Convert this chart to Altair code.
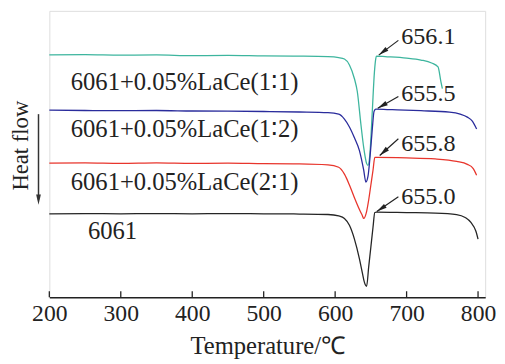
import altair as alt
import pandas as pd

# ---- data (heat flow in arbitrary units) ----
series_names = ["6061+0.05%LaCe(1∶1)", "6061+0.05%LaCe(1∶2)", "6061+0.05%LaCe(2∶1)", "6061"]
series_colors = ["#3db59e", "#2a2c9c", "#e8352c", "#252525"]

t_11 = [200, 250, 300, 350, 400, 450, 500, 550, 590, 605, 613, 620, 627, 631, 636, 640, 644, 646, 649, 652, 655, 657, 658, 670, 700, 720, 735, 744, 748, 750]
h_11 = [246.3, 246.5, 246.0, 246.2, 245.5, 245.7, 245.2, 245.0, 244.5, 243.5, 242.0, 236.0, 222.0, 209.0, 176.0, 152.0, 136.0, 134.0, 149.0, 189.0, 229.0, 243.0, 245.0, 244.5, 243.0, 241.0, 238.0, 234.0, 219.0, 212.0]

t_12 = [200, 250, 300, 350, 400, 450, 500, 550, 590, 605, 613, 620, 627, 634, 640, 643, 646, 649, 652, 654.5, 657, 680, 720, 760, 775, 785, 792, 798]
h_12 = [190.0, 189.7, 189.5, 189.7, 189.2, 189.0, 188.7, 188.2, 187.5, 186.0, 181.0, 173.0, 162.0, 149.0, 129.0, 117.0, 123.0, 144.0, 171.0, 189.0, 191.0, 190.5, 189.5, 188.0, 186.0, 183.0, 179.0, 171.0]

t_21 = [200, 250, 300, 350, 400, 450, 500, 550, 590, 605, 613, 620, 627, 634, 638, 640, 644, 647, 650, 653, 655.5, 658, 700, 740, 770, 785, 793, 798]
h_21 = [136.3, 136.5, 136.0, 136.5, 136.0, 136.2, 135.7, 135.5, 134.5, 132.0, 125.0, 114.0, 101.0, 89.0, 83.0, 80.0, 87.0, 99.0, 114.0, 129.0, 142.0, 142.0, 141.5, 140.5, 138.0, 135.0, 131.0, 124.0]

t_00 = [200, 250, 300, 350, 400, 450, 500, 550, 590, 605, 613, 620, 627, 634, 638, 641, 644, 647, 650, 653, 655.5, 658, 700, 740, 770, 782, 790, 797, 800]
h_00 = [84.7, 85.0, 84.7, 85.0, 84.7, 85.0, 84.7, 84.5, 84.0, 82.5, 80.0, 73.0, 59.0, 39.0, 25.0, 15.0, 11.0, 31.0, 51.0, 71.0, 86.0, 86.5, 86.0, 85.5, 84.0, 81.0, 76.0, 67.0, 59.0]

label_x = [230, 230, 230, 254]
label_y = [219, 171, 117, 67]

peak_text = ["656.1", "655.5", "655.8", "655.0"]
peak_text_x = [692.5, 692.5, 692.5, 692.5]
peak_text_y = [264, 206, 156, 102]
arrow_tail_x = [688.5, 688.5, 688.5, 688.5]
arrow_tail_y = [261, 204, 161, 102]
arrow_tip_x = [661.0, 659.6, 662.4, 658.3]
arrow_tip_y = [246, 192, 144, 87]
arrow_angle = [233, 240, 228, 236]

x_ticks = [200, 300, 400, 500, 600, 700, 800]

# ---- tables ----
rows = []
for name, ts, hs in zip(series_names, [t_11, t_12, t_21, t_00], [h_11, h_12, h_21, h_00]):
    for i, (t, h) in enumerate(zip(ts, hs)):
        rows.append({"series": name, "T": t, "H": h, "i": i})
curves = pd.DataFrame(rows)
labels = pd.DataFrame({"series": series_names, "x": label_x, "y": label_y})
peaks = pd.DataFrame({"txt": peak_text, "x": peak_text_x, "y": peak_text_y,
                      "x1": arrow_tail_x, "y1": arrow_tail_y,
                      "x2": arrow_tip_x, "y2": arrow_tip_y, "ang": arrow_angle})
ticks = pd.DataFrame({"t": x_ticks})
one = pd.DataFrame({"a": [0]})

FONT = "Liberation Serif"
W, H = 443, 291
xs = alt.Scale(domain=[200, 810], nice=False, zero=False)
ys = alt.Scale(domain=[0, 291], nice=False, zero=False)
head = "M0,0L0.6,2.6L-0.6,2.6Z"

lines = alt.Chart(curves).mark_line(strokeWidth=1.3, interpolate="monotone").encode(
    x=alt.X("T:Q", scale=xs,
            axis=alt.Axis(values=x_ticks, ticks=False, grid=False, labelFont=FONT,
                          labelFontSize=24, labelColor="#222", labelPadding=5, labelFlush=False,
                          labelOverlap=False,
                          domainColor="#222", domainWidth=1.5, title="Temperature/℃",
                          titleFont=FONT, titleFontSize=25, titleFontWeight="normal",
                          titleColor="#222", titleBaseline="alphabetic", titleY=57)),
    y=alt.Y("H:Q", scale=ys, axis=None),
    color=alt.Color("series:N", scale=alt.Scale(domain=series_names, range=series_colors), legend=None),
    order="i:Q",
)

tick_marks = alt.Chart(ticks).mark_rule(color="#222", strokeWidth=1.3).encode(
    x=alt.X("t:Q", scale=xs), y=alt.value(H), y2=alt.value(H - 6)
)

lbl = alt.Chart(labels).mark_text(align="left", baseline="middle", font=FONT,
                                  fontSize=25, color="#222").encode(
    x=alt.X("x:Q", scale=xs), y=alt.Y("y:Q", scale=ys), text="series:N"
)

ptxt = alt.Chart(peaks).mark_text(align="left", baseline="middle", font=FONT,
                                  fontSize=24.5, color="#222").encode(
    x=alt.X("x:Q", scale=xs), y=alt.Y("y:Q", scale=ys), text="txt:N"
)

shafts = alt.Chart(peaks).mark_rule(color="#222", strokeWidth=1.2).encode(
    x=alt.X("x1:Q", scale=xs), y=alt.Y("y1:Q", scale=ys), x2="x2:Q", y2="y2:Q"
)

heads = alt.Chart(peaks).mark_point(shape=head, filled=True, size=64, color="#222", opacity=1).encode(
    x=alt.X("x2:Q", scale=xs), y=alt.Y("y2:Q", scale=ys), angle=alt.Angle("ang:Q", scale=None)
)

ytitle = alt.Chart(one).mark_text(text="Heat flow", angle=270, align="center", baseline="middle",
                                  font=FONT, fontSize=23, color="#222").encode(
    x=alt.value(-29), y=alt.value(137)
)
yarrow = alt.Chart(one).mark_rule(color="#333", strokeWidth=1.5).encode(
    x=alt.value(-11), y=alt.value(105), y2=alt.value(192)
)
yhead = alt.Chart(one).mark_point(shape=head, filled=True, size=64, color="#333", opacity=1, angle=180).encode(
    x=alt.value(-11), y=alt.value(197)
)

chart = alt.layer(lines, tick_marks, lbl, ptxt, shafts, heads, ytitle, yarrow, yhead).properties(
    width=W, height=H,
    autosize="none",
    padding={"left": 42, "top": 0, "right": 12, "bottom": 62},
).configure_view(stroke="#222", strokeWidth=1.5).configure(background="white", font=FONT)

chart.save("out.html", embed_options={"renderer": "svg", "actions": False})
